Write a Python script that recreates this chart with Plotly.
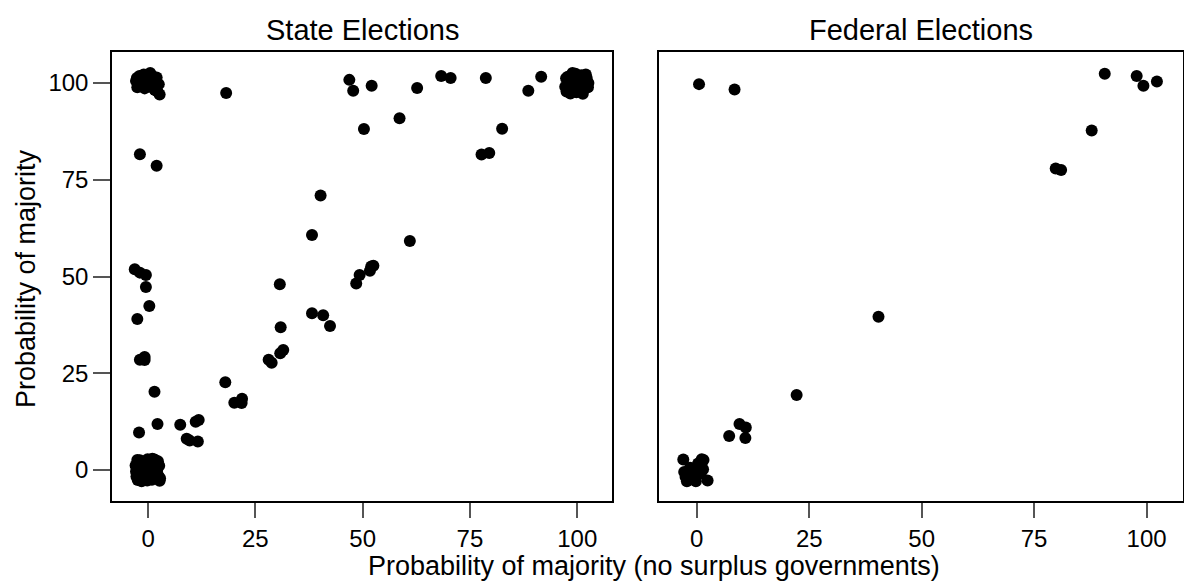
import plotly.graph_objects as go

# ---- State Elections ----
state_x = [
    # cluster near (0, 100)
    -2.8, -2.5, -2.0, -1.5, -1.0, -0.5, 0.0, 0.5, 1.0, 1.5, 2.0, 2.5, -2.6, -1.8,
    -0.8, 0.2, 1.2, 2.2, -2.2, -0.3, 0.8, 1.8, 2.7, 1.6, -1.2,
    # cluster near (0, 0)
    -2.9, -2.4, -1.9, -1.3, -0.7, -0.1, 0.5, 1.1, 1.7, 2.3, 2.7, -2.7, -2.1, -1.5,
    -0.9, -0.3, 0.3, 0.9, 1.5, 2.1, 2.6, -2.8, -2.0, -1.1, -0.2, 0.7, 1.4, 2.4,
    -1.7, 0.1, 1.9, -2.5, 1.0, 2.8,
    # cluster near (100, 100)
    97.2, 97.8, 98.4, 99.0, 99.6, 100.2, 100.8, 101.4, 102.0, 102.6, 97.5, 98.1,
    98.9, 99.5, 100.1, 100.7, 101.3, 101.9, 102.5, 97.4, 98.6, 99.8, 101.0, 102.2,
    99.2, 100.4,
    # scattered points
    46.9, 47.8, 52.1, 62.7, 68.3, 70.5, 78.7, 88.6, 91.6, 18.2, 50.3, 58.6, 82.5,
    77.7, 79.5, -1.9, 2.0, 40.2, 38.2, 61.0, 52.5, 52.0, 51.7, 49.3, 48.5, 30.7,
    30.9, 38.2, 40.8, 42.4, 31.5, 30.8, 28.1, 28.8, 18.0, 20.1, 21.9, 21.8, 7.5,
    11.8, 11.1, 9.0, 9.7, 11.6, -3.1, -1.9, -0.5, -0.5, 0.3, -2.5, -1.9, -0.8,
    -0.8, 1.5, 2.2, -2.1,
]
state_y = [
    # cluster near (0, 100)
    100.5, 98.9, 101.8, 99.5, 102.2, 100.9, 99.1, 102.6, 100.2, 98.4, 101.4, 99.7,
    101.3, 100.0, 98.6, 101.5, 99.4, 97.8, 99.2, 100.4, 101.9, 100.8, 97.0, 98.2,
    100.6,
    # cluster near (0, 0)
    1.2, -2.6, 2.5, -1.1, 0.4, 2.8, -2.2, 1.8, -0.6, 2.3, -2.8, -1.7, 0.9, -2.9,
    2.1, -0.9, 0.6, -2.5, 2.7, -0.2, 1.1, -0.4, -1.3, 1.5, -2.7, 0.0, -1.9, -1.5,
    2.0, 1.3, 0.7, 2.6, 2.9, -2.1,
    # cluster near (100, 100)
    99.0, 101.6, 97.3, 100.4, 102.4, 98.2, 101.0, 99.5, 102.2, 100.0, 97.8, 100.8,
    102.6, 98.6, 99.7, 101.8, 97.2, 100.3, 98.9, 101.2, 99.9, 97.6, 102.0, 101.3,
    98.0, 100.6,
    # scattered points
    100.8, 98.0, 99.3, 98.7, 101.8, 101.3, 101.3, 98.0, 101.6, 97.4, 88.1, 90.9,
    88.2, 81.5, 81.9, 81.6, 78.6, 70.9, 60.7, 59.2, 52.8, 52.6, 51.5, 50.4, 48.2,
    48.0, 36.9, 40.5, 40.0, 37.2, 31.0, 30.2, 28.5, 27.7, 22.7, 17.4, 18.4, 17.3,
    11.7, 12.9, 12.5, 8.1, 7.6, 7.4, 51.9, 51.0, 50.4, 47.3, 42.4, 39.0, 28.5,
    29.2, 28.4, 20.2, 11.9, 9.7,
]

# ---- Federal Elections ----
federal_x = [
    0.5, 8.4, 90.7, 97.8, 99.3, 102.3, 87.8, 79.8, 81.0, 40.4, 22.2, 9.5, 10.9,
    10.8, 7.2,
    -3.0, 1.1, 1.5, 2.4, -2.8, -1.9, -1.0, -0.2, 0.6, 1.4, -2.5, -1.5, -0.6, 0.3,
    -2.2, 0.9, -0.8,
]
federal_y = [
    99.7, 98.3, 102.4, 101.8, 99.3, 100.4, 87.7, 77.9, 77.5, 39.6, 19.4, 11.9, 11.0,
    8.3, 8.8,
    2.7, 2.8, 2.6, -2.7, -0.5, -2.5, -1.2, -2.9, 1.0, 0.2, -1.8, 0.6, -2.0, 1.7,
    -2.9, -0.9, 0.3,
]

x_ticks = [0, 25, 50, 75, 100]
y_ticks = [0, 25, 50, 75, 100]

W, H = 1184, 583
FONT = "Liberation Sans, Arial, Helvetica, sans-serif"

fig = go.Figure()
marker = dict(color="black", size=12, line=dict(width=0))
fig.add_trace(go.Scatter(x=state_x, y=state_y, mode="markers", marker=marker,
                         xaxis="x", yaxis="y", showlegend=False, hoverinfo="x+y"))
fig.add_trace(go.Scatter(x=federal_x, y=federal_y, mode="markers", marker=marker,
                         xaxis="x2", yaxis="y2", showlegend=False, hoverinfo="x+y"))

y_dom = [1 - 501 / H, 1 - 52 / H]
common_x = dict(range=[-8.4, 108.1], tickvals=x_ticks, ticks="outside", ticklen=15,
                tickwidth=1.5, tickcolor="#555555", showline=True, linecolor="black",
                linewidth=1.5, mirror=True, showgrid=False, zeroline=False,
                tickfont=dict(family=FONT, size=24, color="black"))
common_y = dict(range=[-8.0, 108.0], tickvals=y_ticks, ticks="outside", ticklen=17,
                tickwidth=1.5, tickcolor="#555555", showline=True, linecolor="black",
                linewidth=1.5, mirror=True, showgrid=False, zeroline=False,
                tickfont=dict(family=FONT, size=24, color="black"), domain=y_dom)

fig.update_layout(
    width=W, height=H,
    margin=dict(l=0, r=0, t=0, b=0),
    paper_bgcolor="white", plot_bgcolor="white",
    font=dict(family=FONT, color="black"),
    xaxis=dict(common_x, domain=[112 / W, 612 / W], anchor="y"),
    yaxis=dict(common_y, anchor="x"),
    xaxis2=dict(common_x, domain=[659 / W, 1183 / W], anchor="y2"),
    yaxis2=dict(common_y, anchor="x2", showticklabels=False, ticks=""),
    annotations=[
        dict(text="State Elections", x=(112 + 612) / 2 / W, y=1 - 30 / H,
             xref="paper", yref="paper", showarrow=False,
             font=dict(family=FONT, size=29, color="black"),
             xanchor="center", yanchor="middle"),
        dict(text="Federal Elections", x=(659 + 1183) / 2 / W, y=1 - 30 / H,
             xref="paper", yref="paper", showarrow=False,
             font=dict(family=FONT, size=29, color="black"),
             xanchor="center", yanchor="middle"),
        dict(text="Probability of majority (no surplus governments)",
             x=654 / W, y=1 - 566 / H, xref="paper", yref="paper", showarrow=False,
             font=dict(family=FONT, size=27, color="black"),
             xanchor="center", yanchor="middle"),
        dict(text="Probability of majority", x=26 / W, y=1 - 279 / H,
             xref="paper", yref="paper", showarrow=False, textangle=-90,
             font=dict(family=FONT, size=27, color="black"),
             xanchor="center", yanchor="middle"),
    ],
)

fig.write_html("out.html")
